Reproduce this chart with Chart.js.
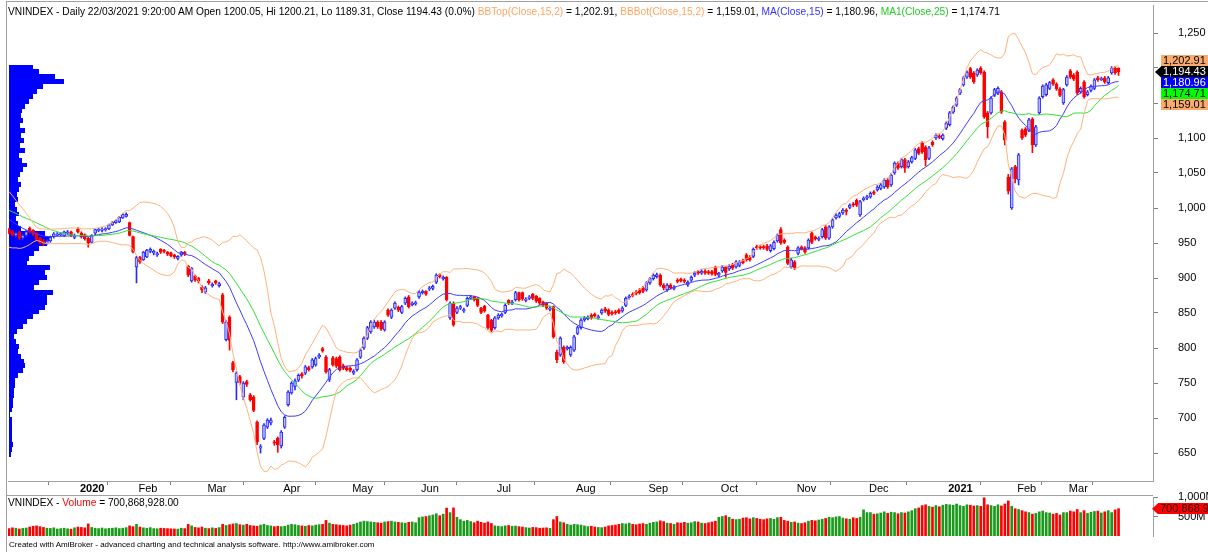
<!DOCTYPE html>
<html>
<head>
<meta charset="utf-8">
<script src="https://cdn.jsdelivr.net/npm/chart.js@4.4.1/dist/chart.umd.min.js"></script>
<style>
    html, body { margin: 0; padding: 0; background: #fff; }
    #wrap { position: relative; width: 1208px; height: 552px; overflow: hidden; font-family: "Liberation Sans", Arial, sans-serif; }
    #mainCanvas { position: absolute; left: 0; top: 0; }
    #volCanvas { position: absolute; left: 0; top: 482px; }
    .frame { position: absolute; left: 6px; top: 1px; width: 1202px; height: 551px; border-left: 1px solid #a0a0a0; border-top: 1px solid #a0a0a0; box-sizing: border-box; }
    .hline { position: absolute; left: 6px; width: 1147px; height: 0; border-top: 1px solid #a0a0a0; }
    .title { position: absolute; left: 8px; font-size: 10.2px; white-space: nowrap; color: #000; }
    #footer { position: absolute; left: 9px; top: 540px; font-size: 8px; color: #000; white-space: nowrap; }
</style>
</head>
<body>
<div id="wrap">
    <canvas id="mainCanvas" width="1208" height="496"></canvas>
    <canvas id="volCanvas" width="1208" height="58"></canvas>
    <div class="frame"></div>
    <div class="hline" style="top:495px"></div>
    <div class="title" style="top:6px">VNINDEX - Daily 22/03/2021 9:20:00 AM Open 1200.05, Hi 1200.21, Lo 1189.31, Close 1194.43 (0.0%) <span style="color:#ffa562">BBTop(Close,15,2)</span> = 1,202.91, <span style="color:#ffa562">BBBot(Close,15,2)</span> = 1,159.01, <span style="color:#3333ff">MA(Close,15)</span> = 1,180.96, <span style="color:#22cc22">MA1(Close,25)</span> = 1,174.71</div>
    <div class="title" style="top:497px">VNINDEX - <span style="color:#ff0000">Volume</span> = 700,868,928.00</div>
    <div id="footer">Created with AmiBroker - advanced charting and technical analysis software. http://www.amibroker.com</div>
</div>
<script>
// closes before the first visible bar, only used to warm up MA / BB
const preCloses = [1010, 1015, 1019, 1020, 1022, 1018, 1016, 1019, 1012, 1010, 1008, 1015, 1012, 1006, 1003,
    999, 995, 992, 985, 975, 968, 963, 962, 958, 960];

// trading bars per month: Dec 2019 .. Mar 2021
const monthBarCounts = [20, 17, 20, 22, 20, 20, 22, 23, 21, 21, 22, 21, 23, 20, 15, 16];
const monthLabels = ['2020', 'Feb', 'Mar', 'Apr', 'May', 'Jun', 'Jul', 'Aug', 'Sep', 'Oct', 'Nov', 'Dec', '2021', 'Feb', 'Mar'];

const opens = [
    969, 966, 960, 966, 957, 961, 971, 968, 964, 957, 953, 949, 953, 959, 961, 962, 960, 964, 966, 958,
    970, 964, 962, 957, 951, 964, 968, 968, 969, 970, 976, 979, 980, 986, 988, 979, 959,
    916, 930, 926, 930, 938, 936, 933, 941, 940, 937, 936, 933, 928, 933, 937, 917, 896, 903, 900, 887,
    880, 896, 889, 896, 889, 876, 812, 844, 779, 751, 759, 730, 752, 733, 730, 694, 657, 671, 687, 693, 666, 671,
    660, 687, 719, 736, 745, 754, 763, 764, 772, 773, 776, 787, 799, 787, 755, 786, 785, 787, 775, 772,
    771, 764, 769, 787, 800, 814, 823, 830, 837, 837, 826, 854, 844, 857, 858, 851, 864, 873, 862, 863,
    873, 879, 881, 884, 885, 894, 905, 899, 901, 843, 864, 851, 857, 853, 861, 871, 873, 871, 857, 860, 847, 840,
    829, 843, 846, 851, 868, 864, 869, 879, 879, 868, 871, 877, 874, 871, 866, 864, 855, 859, 794, 790, 801, 799, 790,
    797, 821, 829, 840, 842, 847, 848, 843, 850, 856, 854, 851, 852, 854, 853, 861, 872, 877, 880, 883, 886,
    883, 893, 899, 902, 904, 890, 883, 890, 885, 897, 898, 897, 890, 897, 904, 909, 907, 910, 909, 909, 916,
    904, 910, 916, 913, 919, 916, 918, 925, 933, 930, 931, 945, 945, 945, 946, 939, 942, 953, 969, 954, 944, 916,
    923, 935, 944, 943, 943, 964, 958, 955, 959, 973, 957, 973, 986, 988, 993, 997, 1001, 1006, 1011, 990, 1012,
    1014, 1016, 1023, 1026, 1028, 1030, 1040, 1033, 1050, 1064, 1059, 1069, 1059, 1066, 1071, 1085, 1093, 1087, 1071, 1094, 1100, 1103, 1099,
    1114, 1119, 1137, 1147, 1164, 1176, 1187, 1199, 1193, 1190, 1200, 1194, 1136, 1136, 1161, 1164, 1166, 1123, 1044, 1000,
    1059, 1040, 1111, 1113, 1111, 1127, 1090, 1136, 1159, 1162, 1171, 1183, 1177, 1170, 1150,
    1176, 1196, 1190, 1194, 1166, 1180, 1162, 1168, 1171, 1186, 1183, 1186, 1179, 1193, 1200, 1200.05
];
const highs = [
    971, 968, 966, 967, 962, 968, 973, 969, 965, 958, 955, 955, 960, 965, 965, 965, 967, 968, 967, 963,
    972, 966, 963, 958, 962, 970, 971, 972, 972, 977, 981, 983, 988, 992, 993, 980, 960,
    931, 931, 938, 941, 943, 940, 937, 942, 941, 938, 937, 934, 932, 938, 938, 918, 915, 904, 901, 889,
    888, 898, 893, 897, 894, 878, 839, 846, 781, 766, 761, 752, 754, 735, 732, 696, 662, 692, 699, 700, 668, 673,
    682, 703, 739, 752, 756, 763, 765, 775, 774, 785, 787, 792, 801, 789, 771, 788, 787, 789, 777, 774,
    773, 769, 785, 799, 816, 831, 839, 840, 839, 839, 839, 856, 856, 866, 860, 861, 873, 875, 866, 867,
    882, 883, 882, 888, 890, 906, 906, 903, 902, 866, 866, 859, 861, 857, 873, 875, 874, 872, 858, 861, 848, 841,
    845, 849, 850, 863, 869, 868, 881, 880, 880, 872, 875, 878, 875, 872, 867, 865, 859, 860, 797, 816, 803, 803, 803,
    818, 831, 842, 845, 846, 849, 850, 847, 856, 858, 856, 853, 854, 856, 859, 873, 876, 879, 882, 885, 888,
    895, 901, 906, 907, 906, 892, 892, 892, 889, 899, 900, 899, 896, 903, 909, 911, 912, 912, 911, 911, 917,
    908, 918, 917, 919, 921, 925, 925, 927, 935, 932, 943, 947, 947, 947, 948, 948, 953, 963, 972, 956, 946, 928,
    925, 945, 946, 945, 956, 966, 960, 959, 971, 975, 975, 985, 992, 994, 999, 999, 1006, 1008, 1013, 1011, 1016,
    1018, 1023, 1025, 1032, 1035, 1042, 1042, 1049, 1066, 1066, 1071, 1071, 1068, 1074, 1085, 1087, 1095, 1089, 1088, 1096, 1106, 1105, 1106,
    1123, 1138, 1146, 1159, 1171, 1188, 1196, 1201, 1195, 1199, 1202, 1196, 1138, 1159, 1171, 1173, 1168, 1125, 1048, 1058,
    1061, 1078, 1113, 1115, 1128, 1129, 1118, 1159, 1176, 1178, 1181, 1185, 1179, 1172, 1171,
    1189, 1198, 1192, 1196, 1173, 1182, 1168, 1176, 1185, 1188, 1187, 1188, 1188, 1202, 1202, 1200.21
];
const lows = [
    963, 960, 958, 955, 955, 959, 964, 961, 953, 949, 946, 948, 951, 957, 960, 960, 959, 962, 959, 956,
    964, 957, 954, 944, 950, 962, 966, 966, 967, 969, 975, 978, 979, 985, 987, 960, 936,
    893, 921, 925, 929, 936, 933, 931, 935, 936, 932, 930, 928, 926, 931, 932, 902, 894, 895, 893, 879,
    878, 891, 887, 891, 887, 835, 810, 797, 766, 726, 748, 726, 745, 724, 709, 662, 650, 669, 685, 690, 661, 651,
    657, 685, 717, 734, 740, 752, 757, 762, 767, 771, 774, 785, 794, 764, 752, 774, 772, 767, 769, 767,
    766, 762, 767, 785, 798, 812, 821, 828, 828, 825, 824, 845, 842, 855, 852, 849, 862, 857, 860, 861,
    871, 877, 875, 882, 883, 892, 900, 897, 867, 841, 831, 849, 855, 851, 859, 869, 867, 859, 849, 851, 827, 823,
    827, 841, 844, 849, 862, 862, 867, 867, 868, 866, 869, 869, 865, 862, 859, 855, 853, 814, 779, 788, 778, 797, 788,
    795, 819, 827, 838, 840, 841, 844, 841, 848, 851, 846, 847, 848, 849, 851, 859, 870, 873, 876, 877, 879,
    881, 891, 897, 900, 888, 883, 881, 884, 883, 893, 894, 893, 888, 895, 902, 905, 905, 905, 905, 904, 903,
    902, 908, 901, 911, 912, 914, 916, 920, 924, 924, 929, 941, 941, 941, 939, 937, 940, 951, 948, 949, 919, 914,
    912, 933, 940, 935, 941, 949, 954, 953, 957, 955, 955, 971, 984, 986, 991, 990, 999, 1002, 1002, 988, 1010,
    1012, 1014, 1019, 1024, 1026, 1028, 1028, 1031, 1048, 1055, 1057, 1051, 1057, 1064, 1069, 1076, 1078, 1060, 1069, 1088, 1098, 1099, 1097,
    1112, 1117, 1135, 1145, 1162, 1174, 1185, 1185, 1178, 1188, 1191, 1128, 1100, 1134, 1159, 1162, 1135, 1090, 1020, 998,
    1036, 1033, 1098, 1102, 1109, 1079, 1088, 1134, 1157, 1160, 1169, 1175, 1168, 1159, 1148,
    1174, 1185, 1182, 1162, 1164, 1157, 1160, 1166, 1169, 1181, 1182, 1178, 1177, 1191, 1191, 1189.31
];
const closes = [
    964, 962, 964, 957, 961, 966, 966, 963, 955, 951, 949, 953, 958, 963, 963, 963, 966, 966, 961, 961,
    966, 959, 956, 950, 961, 969, 969, 970, 970, 976, 980, 982, 987, 991, 991, 961, 937,
    929, 923, 937, 940, 941, 938, 935, 937, 938, 934, 932, 930, 931, 937, 934, 904, 914, 897, 896, 883,
    886, 893, 891, 893, 892, 837, 837, 811, 769, 764, 750, 750, 748, 726, 711, 666, 659, 690, 697, 697, 664, 662,
    680, 701, 737, 750, 753, 761, 760, 773, 769, 783, 785, 790, 796, 766, 769, 776, 774, 769, 771, 769,
    768, 767, 783, 797, 814, 829, 837, 837, 830, 827, 837, 847, 854, 864, 854, 859, 871, 859, 864, 865,
    880, 881, 877, 886, 888, 904, 902, 901, 869, 864, 833, 857, 859, 855, 871, 873, 869, 861, 851, 853, 829, 825,
    843, 847, 848, 861, 864, 866, 879, 869, 870, 870, 873, 871, 867, 864, 861, 857, 857, 816, 783, 814, 780, 801, 801,
    816, 829, 840, 843, 844, 843, 846, 845, 854, 853, 848, 849, 850, 851, 857, 871, 874, 875, 878, 879, 881,
    893, 899, 904, 905, 890, 886, 890, 886, 887, 895, 896, 895, 894, 901, 907, 907, 910, 907, 907, 906, 905,
    907, 916, 908, 917, 914, 923, 923, 922, 926, 926, 941, 943, 943, 943, 941, 946, 951, 961, 950, 951, 921, 926,
    914, 943, 942, 937, 954, 951, 956, 957, 969, 957, 973, 983, 990, 992, 997, 995, 1004, 1004, 1004, 1009, 1014,
    1016, 1021, 1021, 1030, 1033, 1040, 1030, 1047, 1064, 1057, 1069, 1057, 1066, 1072, 1083, 1078, 1080, 1069, 1086, 1090, 1104, 1101, 1104,
    1121, 1136, 1144, 1157, 1169, 1186, 1194, 1187, 1180, 1197, 1193, 1130, 1116, 1157, 1169, 1171, 1137, 1097, 1024, 1056,
    1042, 1076, 1100, 1104, 1126, 1090, 1116, 1157, 1174, 1176, 1179, 1177, 1170, 1161, 1169,
    1187, 1187, 1184, 1164, 1171, 1159, 1166, 1174, 1183, 1183, 1185, 1180, 1186, 1200, 1193, 1194.43
];
// volume in millions of shares
const volumes = [
    190, 210, 200, 180, 195, 205, 230, 250, 260, 240, 220, 200, 195, 210, 180, 190, 200, 185, 175, 210,
    230, 220, 210, 310, 220, 200, 190, 205, 185, 195, 200, 210, 190, 200, 215, 260, 240,
    300, 230, 210, 200, 215, 190, 185, 200, 195, 190, 185, 180, 175, 200, 190, 300, 260, 220, 210, 230,
    200, 190, 210, 195, 215, 300, 270, 290, 310, 320, 290, 280, 300, 270, 260, 250, 280, 300, 270, 260, 240, 250,
    240, 250, 280, 300, 290, 270, 260, 250, 270, 260, 280, 290, 300, 400, 330, 300, 290, 280, 270, 260,
    280, 300, 330, 360, 380, 370, 360, 350, 340, 330, 360, 370, 380, 360, 350, 340, 330, 350, 360, 340,
    470, 490, 500, 520, 540, 570, 520, 560, 715, 600, 720, 480, 420, 380, 400, 370, 340, 380, 350, 330, 360, 320,
    260, 250, 240, 260, 270, 250, 255, 240, 230, 215, 205, 220, 215, 200, 205, 210, 195, 420, 500, 360, 340, 300, 280,
    300, 290, 280, 260, 240, 250, 230, 220, 215, 230, 260, 270, 280, 300, 320, 310, 330, 300, 290, 310, 320,
    300, 330, 350, 360, 390, 370, 330, 320, 300, 340, 330, 350, 330, 340, 370, 360, 330, 320, 340, 360, 380,
    480, 500, 520, 480, 430, 420, 430, 460, 470, 440, 470, 450, 430, 420, 440, 450, 430, 470, 480, 400, 380, 350,
    360, 330, 320, 340, 380, 400, 390, 410, 430, 450, 480, 470, 490, 500, 460, 440, 430, 470, 450, 480, 670,
    600, 600, 560, 570, 590, 620, 580, 610, 600, 570, 600, 590, 620, 650, 700, 720, 780, 800, 760, 740, 780, 750, 790,
    810, 800, 790, 820, 780, 760, 800, 790, 770, 780, 760, 980, 800, 780, 760, 800, 770, 820, 900, 760,
    700, 680, 650, 620, 600, 560, 580, 620, 640, 600, 590, 560, 580, 540, 600,
    600, 640, 620, 680, 600, 650, 580, 610, 630, 640, 590, 620, 650, 600, 670, 700.868928
];

// volume-at-price profile: bins of 7 points from 645 upward, relative volume
const vapStart = 645;
const vapStep = 7;
const vapVolumes = [
    2, 3, 4, 3, 3, 3, 3, 3, 1, 3, 4, 4, 5, 5, 6, 6, 9, 14, 16, 15,
    12, 9, 10, 7, 5, 8, 14, 18, 24, 30, 36, 38, 38, 44, 25, 30, 38, 36, 41, 18,
    20, 25, 30, 38, 42, 36, 12, 9, 7, 10, 8, 6, 9, 8, 10, 12, 9, 11, 14, 18,
    13, 10, 16, 11, 15, 12, 16, 11, 14, 12, 13, 16, 20, 24, 28, 34, 55, 46, 30, 24
];

const priceTicks = [650, 700, 750, 800, 850, 900, 950, 1000, 1050, 1100, 1150, 1200, 1250];
const volumeTicks = [500, 1000];
const volumeTickLabels = ['500M', '1,000M'];

// last values shown in the right-hand boxes (BBTop, Close, MA15, MA25, BBBot)
const lastValues = [1202.91, 1194.43, 1180.96, 1174.71, 1159.01];
const lastVolume = 700868928;

// styles
const FONT = '"Liberation Sans", Arial, sans-serif';
const UP_LINE = '#2a2aff';
const UP_FILL = '#b8b8ff';
const DOWN = '#ff0000';
const BB_COLOR = '#ffb27a';
const MA_COLOR = '#3c3cff';
const MA1_COLOR = '#33e033';
const VOL_UP = '#1a9a1a';
const BOX_STYLES = [
    {bg: '#f9aa6c', fg: '#000'},
    {bg: '#000000', fg: '#fff', arrow: true},
    {bg: '#0000ff', fg: '#fff'},
    {bg: '#00ff00', fg: '#000'},
    {bg: '#f9aa6c', fg: '#000'}
];
const X_MIN = -0.29;
const X_MAX = 332.0;
const Y_MIN = 610;
const Y_MAX = 1290;

// derived values
const allCloses = preCloses.concat(closes);
const isUp = closes.map((c, i) => c >= opens[i]);
const monthStartBars = [];
let acc = 0;
monthBarCounts.forEach((n, k) => {
    acc += n;
    if (k < monthLabels.length) monthStartBars.push(acc);
});

function windowAt(i, period) {
    const g = i + preCloses.length;
    return allCloses.slice(g - period + 1, g + 1);
}
function mean(arr) {
    return arr.reduce((a, b) => a + b, 0) / arr.length;
}
const ma15 = closes.map((c, i) => mean(windowAt(i, 15)));
const ma25 = closes.map((c, i) => mean(windowAt(i, 25)));
const bbDev = closes.map((c, i) => {
    const w = windowAt(i, 15);
    const m = mean(w);
    return Math.sqrt(mean(w.map(v => (v - m) * (v - m))));
});
const bbTop = ma15.map((m, i) => m + 2 * bbDev[i]);
const bbBot = ma15.map((m, i) => m - 2 * bbDev[i]);

const points = arr => arr.map((v, i) => ({x: i, y: v}));

// scale labels must not push the plot area in
function noScalePadding(s) {
    s.paddingTop = 0;
    s.paddingBottom = 0;
    s.paddingLeft = 0;
    s.paddingRight = 0;
}

// Volume at price histogram on the left of the price pane
const volumeProfile = {
    id: 'volumeProfile',
    beforeDatasetsDraw(chart) {
        const {ctx, chartArea, scales: {y}} = chart;
        const maxV = Math.max(...vapVolumes);
        ctx.save();
        ctx.fillStyle = '#0000ff';
        vapVolumes.forEach((v, k) => {
            const lo = vapStart + k * vapStep;
            const top = Math.round(y.getPixelForValue(lo + vapStep));
            const bottom = Math.round(y.getPixelForValue(lo));
            ctx.fillRect(chartArea.left + 1, top, v / maxV * 55, bottom - top);
        });
        ctx.restore();
    }
};

function drawBox(ctx, x, yc, text, style) {
    ctx.fillStyle = style.bg;
    ctx.fillRect(x, Math.round(yc - 5.5), 1208 - x, 11);
    if (style.arrow) {
        ctx.beginPath();
        ctx.moveTo(x - 6, yc);
        ctx.lineTo(x, yc - 5.5);
        ctx.lineTo(x, yc + 5.5);
        ctx.closePath();
        ctx.fill();
    }
    ctx.fillStyle = style.fg;
    ctx.font = '11px ' + FONT;
    ctx.textBaseline = 'middle';
    ctx.textAlign = 'left';
    ctx.fillText(text, x + 2, yc + 0.5);
}

// Last value boxes on the price axis, stacked so they do not overlap
const lastValueBoxes = {
    id: 'lastValueBoxes',
    afterDraw(chart) {
        const {ctx, scales: {y}} = chart;
        const h = 11;
        const pos = lastValues.map(v => y.getPixelForValue(v));
        const placed = pos.slice();
        const anchor = 1;
        for (let k = anchor - 1; k >= 0; k--) placed[k] = Math.min(pos[k], placed[k + 1] - h);
        for (let k = anchor + 1; k < pos.length; k++) placed[k] = Math.max(pos[k], placed[k - 1] + h);
        ctx.save();
        lastValues.forEach((v, k) => {
            const text = v.toLocaleString('en-US', {minimumFractionDigits: 2, maximumFractionDigits: 2});
            drawBox(ctx, 1161, placed[k], text, BOX_STYLES[k]);
        });
        ctx.restore();
    }
};

const lastVolumeBox = {
    id: 'lastVolumeBox',
    afterDraw(chart) {
        const {ctx, scales: {y}} = chart;
        ctx.save();
        drawBox(ctx, 1158, y.getPixelForValue(lastVolume / 1e6), lastVolume.toLocaleString('en-US'),
            {bg: '#ff0000', fg: '#300000', arrow: true});
        ctx.restore();
    }
};

const mainChart = new Chart(document.getElementById('mainCanvas'), {
    type: 'bar',
    data: {
        datasets: [
            {type: 'line', label: 'BBTop', data: points(bbTop), borderColor: BB_COLOR, borderWidth: 1, pointRadius: 0, tension: 0, order: 0},
            {type: 'line', label: 'BBBot', data: points(bbBot), borderColor: BB_COLOR, borderWidth: 1, pointRadius: 0, tension: 0, order: 0},
            {type: 'line', label: 'MA1', data: points(ma25), borderColor: MA1_COLOR, borderWidth: 1, pointRadius: 0, tension: 0, order: 0},
            {type: 'line', label: 'MA', data: points(ma15), borderColor: MA_COLOR, borderWidth: 1, pointRadius: 0, tension: 0, order: 0},
            {
                label: 'Wicks',
                data: closes.map((c, i) => ({x: i, y: [lows[i], highs[i]]})),
                backgroundColor: isUp.map(u => u ? UP_LINE : DOWN),
                barThickness: 1,
                grouped: false,
                order: 2
            },
            {
                label: 'Bodies',
                data: closes.map((c, i) => ({x: i, y: [opens[i], c]})),
                backgroundColor: isUp.map(u => u ? UP_FILL : DOWN),
                borderColor: isUp.map(u => u ? UP_LINE : DOWN),
                borderWidth: 1,
                borderSkipped: false,
                barThickness: 3,
                minBarLength: 1,
                grouped: false,
                order: 1
            }
        ]
    },
    options: {
        responsive: false,
        animation: false,
        events: [],
        layout: {autoPadding: false, padding: {left: 8, top: 5, right: 0, bottom: 0}},
        plugins: {legend: {display: false}, tooltip: {enabled: false}},
        scales: {
            x: {
                type: 'linear',
                min: X_MIN,
                max: X_MAX,
                offset: false,
                afterBuildTicks: s => { s.ticks = monthStartBars.map(v => ({value: v})); },
                afterFit: s => { s.height = 15; noScalePadding(s); },
                grid: {drawOnChartArea: false, drawTicks: true, tickLength: 4, color: '#808080'},
                border: {display: true, color: '#a0a0a0'},
                ticks: {
                    autoSkip: false,
                    maxRotation: 0,
                    align: 'start',
                    padding: -3,
                    labelOffset: 2,
                    color: '#000',
                    font: ctx => ({family: FONT, size: 11, weight: /^\d+$/.test(monthLabels[ctx.index] || '') ? 'bold' : 'normal'}),
                    callback: (v, idx) => monthLabels[idx]
                }
            },
            y: {
                position: 'right',
                min: Y_MIN,
                max: Y_MAX,
                beginAtZero: false,
                afterBuildTicks: s => { s.ticks = priceTicks.map(v => ({value: v})); },
                afterFit: s => { s.width = 55; noScalePadding(s); },
                grid: {drawOnChartArea: false, tickLength: 5, color: '#808080'},
                border: {display: true, color: '#a0a0a0'},
                ticks: {padding: 20, color: '#000', font: {family: FONT, size: 11}, callback: v => v.toLocaleString('en-US')}
            }
        }
    },
    plugins: [volumeProfile, lastValueBoxes]
});

const volChart = new Chart(document.getElementById('volCanvas'), {
    type: 'bar',
    data: {
        datasets: [{
            label: 'Volume',
            data: volumes.map((v, i) => ({x: i, y: v})),
            backgroundColor: isUp.map(u => u ? VOL_UP : DOWN),
            barThickness: 2,
            grouped: false
        }]
    },
    options: {
        responsive: false,
        animation: false,
        events: [],
        layout: {autoPadding: false, padding: {left: 8, top: 15, right: 0, bottom: 4}},
        plugins: {legend: {display: false}, tooltip: {enabled: false}},
        scales: {
            x: {type: 'linear', min: X_MIN, max: X_MAX, offset: false, display: false},
            y: {
                position: 'right',
                min: 0,
                max: 1000,
                afterBuildTicks: s => { s.ticks = volumeTicks.map(v => ({value: v})); },
                afterFit: s => { s.width = 55; noScalePadding(s); },
                grid: {drawOnChartArea: false, tickLength: 5, color: '#808080'},
                border: {display: true, color: '#a0a0a0'},
                ticks: {padding: 20, color: '#000', font: {family: FONT, size: 11}, callback: (v, idx) => volumeTickLabels[idx]}
            }
        }
    },
    plugins: [lastVolumeBox]
});
</script>
</body>
</html>
